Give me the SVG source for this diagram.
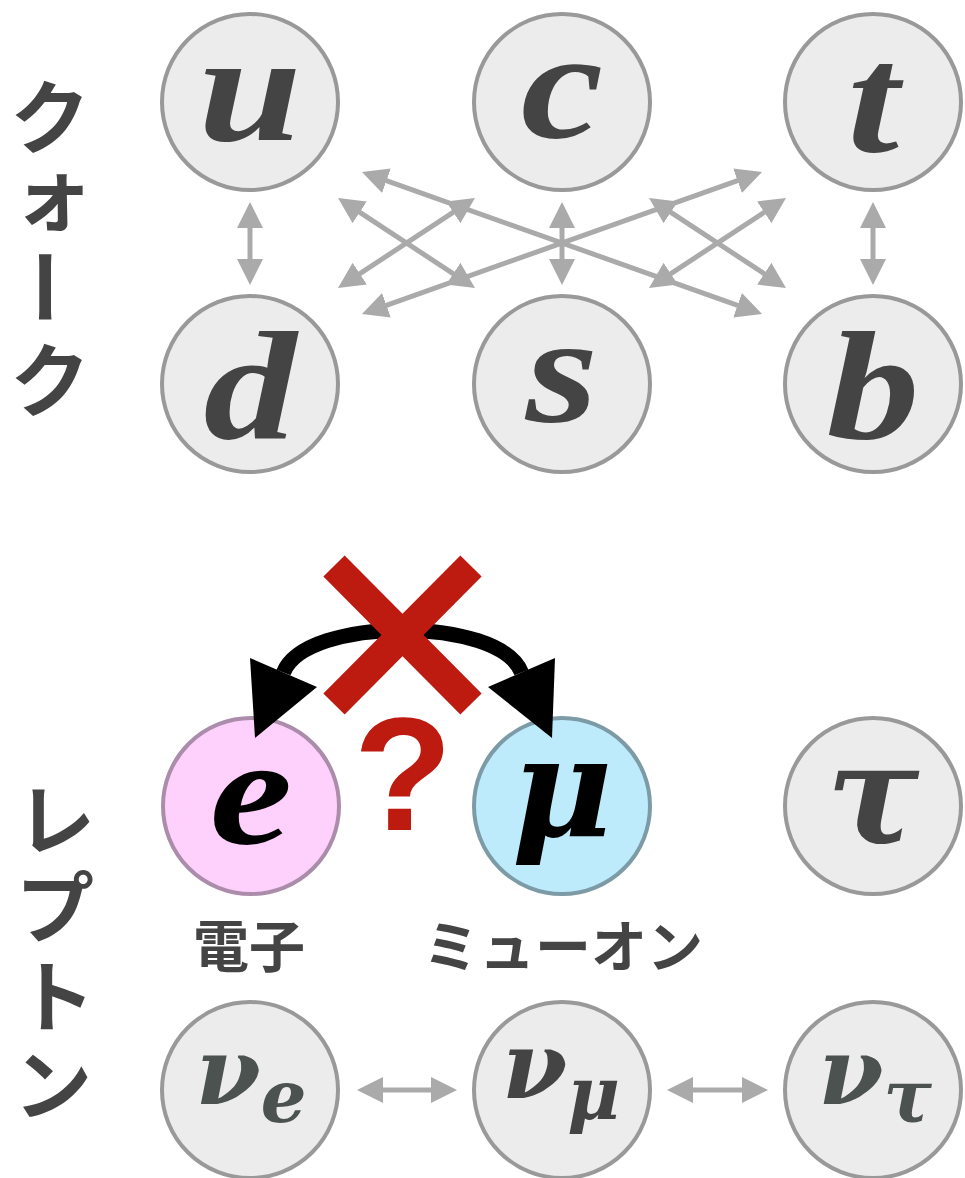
<svg xmlns="http://www.w3.org/2000/svg" width="965" height="1178" viewBox="0 0 965 1178">
  <style>
    .node { fill: #ececec; stroke: #999999; stroke-width: 4; }
    .lat { font-family: "Liberation Serif", "DejaVu Serif", serif; font-weight: bold; font-style: italic; font-size: 155px; fill: #444444; text-anchor: middle; }
    .sym { font-family: "DejaVu Serif", "Liberation Serif", serif; font-weight: bold; font-style: italic; fill: #444444; text-anchor: middle; }
    .jp { font-family: "Noto Sans CJK JP", "Noto Sans", sans-serif; font-weight: bold; fill: #444444; text-anchor: middle; dominant-baseline: central; }
    .mix { fill: none; stroke: #aaaaaa; stroke-width: 5; marker-start: url(#ah); marker-end: url(#ah); }
  </style>
  <defs>
    <marker id="ah" viewBox="0 0 26 26" refX="18" refY="13" markerWidth="26" markerHeight="26" markerUnits="userSpaceOnUse" orient="auto-start-reverse">
      <path d="M0,0 L26,13 L0,26 z" fill="#aaaaaa"/>
    </marker>
  </defs>

  <rect width="965" height="1178" fill="#ffffff"/>

  <!-- side headings, one glyph per row -->
  <g id="label-quark">
    <text class="jp" x="50" y="112" font-size="80">ク</text>
    <text class="jp" x="53" y="189" font-size="80">ォ</text>
    <text class="jp" x="50" y="287" font-size="80" transform="rotate(90 50 287)">ー</text>
    <text class="jp" x="50" y="375" font-size="80">ク</text>
  </g>
  <g id="label-lepton">
    <text class="jp" x="56" y="815" font-size="78">レ</text>
    <text class="jp" x="55" y="903" font-size="78">プ</text>
    <text class="jp" x="56" y="992" font-size="78">ト</text>
    <text class="jp" x="53" y="1080" font-size="78">ン</text>
  </g>

  <!-- mixing connectors -->
  <g id="connectors">
    <line class="mix" x1="250" y1="210" x2="250" y2="277"/>
    <line class="mix" x1="562" y1="210" x2="562" y2="277"/>
    <line class="mix" x1="873" y1="210" x2="873" y2="277"/>
    <line class="mix" x1="369.5" y1="174.7" x2="754.5" y2="311.3"/>
    <line class="mix" x1="369.5" y1="311.3" x2="754.5" y2="174.7"/>
    <line class="mix" x1="344.7" y1="202.4" x2="468.3" y2="283.6"/>
    <line class="mix" x1="344.7" y1="283.6" x2="468.3" y2="202.4"/>
    <line class="mix" x1="655.7" y1="202.4" x2="779.3" y2="283.6"/>
    <line class="mix" x1="655.7" y1="283.6" x2="779.3" y2="202.4"/>
    <line class="mix" x1="365" y1="1090" x2="449" y2="1090"/>
    <line class="mix" x1="675" y1="1090" x2="760" y2="1090"/>
  </g>

  <!-- quarks (glyphs widened slightly for a math-italic look) -->
  <g id="node-u"><circle class="node" cx="250" cy="102" r="88"/><text class="lat" transform="translate(250 140) scale(1.2 1)">u</text></g>
  <g id="node-c"><circle class="node" cx="562" cy="102" r="88"/><text class="lat" transform="translate(562 137) scale(1.2 1)">c</text></g>
  <g id="node-t"><circle class="node" cx="873" cy="102" r="88"/><text class="lat" transform="translate(873 151) scale(1.2 1)">t</text></g>
  <g id="node-d"><circle class="node" cx="250" cy="384" r="88"/><text class="lat" transform="translate(250 439) scale(1.2 1)">d</text></g>
  <g id="node-s"><circle class="node" cx="562" cy="384" r="88"/><text class="lat" transform="translate(562 421) scale(1.2 1)">s</text></g>
  <g id="node-b"><circle class="node" cx="873" cy="384" r="88"/><text class="lat" transform="translate(873 439) scale(1.2 1)">b</text></g>

  <!-- charged leptons -->
  <g id="node-e">
    <circle cx="251" cy="806" r="88" fill="#fed1fd" stroke="#ab8dab" stroke-width="4"/>
    <text class="lat" transform="translate(251 843) scale(1.2 1)" style="fill:#000000">e</text>
  </g>
  <g id="node-mu">
    <circle cx="562" cy="806" r="88" fill="#bdebfc" stroke="#7c9ba6" stroke-width="4"/>
    <text class="sym" x="562" y="836" font-size="138" style="fill:#000000">μ</text>
  </g>
  <g id="node-tau"><circle class="node" cx="873" cy="806" r="88"/><text class="sym" x="873" y="843" font-size="138">τ</text></g>

  <text class="jp" x="249" y="942" font-size="56">電子</text>
  <text class="jp" x="563" y="942" font-size="56">ミューオン</text>

  <!-- neutrinos -->
  <g id="node-nu-e"><circle class="node" cx="250" cy="1090" r="88"/><text class="sym" x="251" y="1104" font-size="94" style="fill:#4c524f">ν<tspan dy="18" font-size="72">e</tspan></text></g>
  <g id="node-nu-mu"><circle class="node" cx="562" cy="1090" r="88"/><text class="sym" x="561" y="1098" font-size="94">ν<tspan dy="21" font-size="72">μ</tspan></text></g>
  <g id="node-nu-tau"><circle class="node" cx="873" cy="1090" r="88"/><text class="sym" x="875" y="1104" font-size="94" style="fill:#4c524f">ν<tspan dy="18" font-size="72">τ</tspan></text></g>

  <!-- forbidden e <-> mu transition -->
  <g id="forbidden">
    <path d="M283.5,672.5 C306,616 499,616 521.5,672.5" fill="none" stroke="#000000" stroke-width="15"/>
    <polygon points="255,738 250,658 317,687" fill="#000000"/>
    <polygon points="552,738 555,658 488,687" fill="#000000"/>
    <line x1="334" y1="566" x2="471" y2="704" stroke="#bd1a10" stroke-width="30"/>
    <line x1="471" y1="566" x2="334" y2="704" stroke="#bd1a10" stroke-width="30"/>
    <text x="403" y="830" font-family="Liberation Sans, Arial, sans-serif" font-weight="bold" font-size="162" fill="#bd1a10" text-anchor="middle">?</text>
  </g>
</svg>
